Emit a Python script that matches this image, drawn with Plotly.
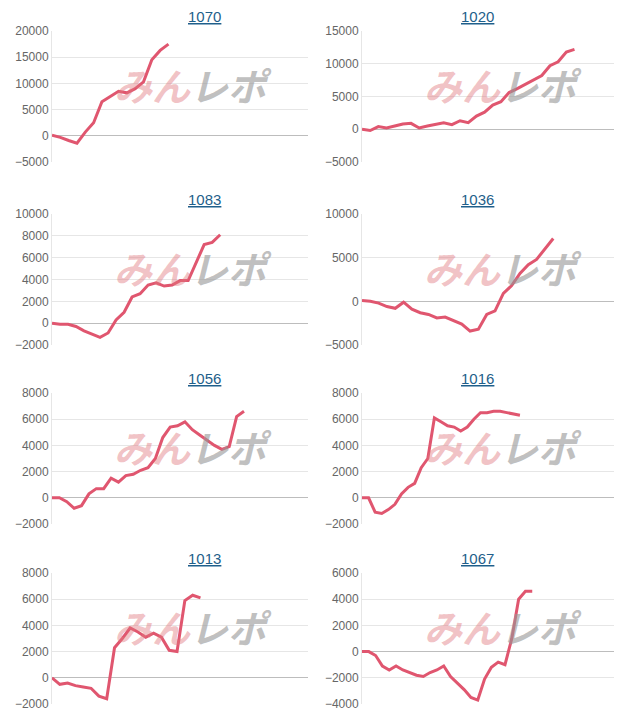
import plotly.graph_objects as go

titles = ["1070", "1020", "1083", "1036", "1056", "1016", "1013", "1067"]
s1070 = [100, -300, -900, -1400, 700, 2500, 6500, 7500, 8500, 8200, 9000, 10300, 14500, 16300, 17500]
s1020 = [0, -200, 400, 200, 500, 800, 900, 200, 500, 700, 1000, 700, 1300, 1000, 2000, 2600, 3700, 4200,
         5600, 6200, 6900, 7600, 8200, 9700, 10300, 11800, 12200]
s1083 = [0, -100, -100, -300, -700, -1000, -1300, -900, 300, 1000, 2400, 2700, 3500, 3700, 3400, 3500,
         3900, 3900, 5500, 7200, 7400, 8100]
s1036 = [100, 0, -200, -600, -800, -100, -900, -1300, -1500, -1900, -1800, -2200, -2600, -3400, -3200,
         -1500, -1100, 900, 1800, 3200, 4200, 4800, 6000, 7200]
s1056 = [0, 0, -300, -800, -600, 300, 700, 700, 1500, 1200, 1700, 1800, 2100, 2300, 3000, 4600, 5400,
         5500, 5800, 5200, 4800, 4400, 4000, 3700, 3900, 6200, 6600]
s1016 = [0, 0, -1100, -1200, -900, -500, 300, 800, 1100, 2300, 3000, 6100, 5800, 5500, 5400, 5100, 5400,
         6000, 6500, 6500, 6600, 6600, 6500, 6400, 6300]
s1013 = [0, -500, -400, -600, -700, -800, -1400, -1600, 2300, 3000, 3800, 3500, 3100, 3400, 3100, 2100,
         2000, 5900, 6300, 6100]
s1067 = [0, 0, -300, -1100, -1400, -1100, -1400, -1600, -1800, -1900, -1600, -1400, -1100, -1900, -2400,
         -2900, -3500, -3700, -2100, -1200, -800, -1000, 1000, 4000, 4600, 4600]
series = [s1070, s1020, s1083, s1036, s1056, s1016, s1013, s1067]
yranges = [(-5000, 20000, 5000), (-5000, 15000, 5000), (-2000, 10000, 2000), (-5000, 10000, 5000),
           (-2000, 8000, 2000), (-2000, 8000, 2000), (-2000, 8000, 2000), (-4000, 6000, 2000)]
end_frac = [0.455, 0.83, 0.657, 0.747, 0.75, 0.617, 0.58, 0.665]

W, H = 614, 712
OFF = 8
cols = [(52, 308), (362, 618)]
rows = [(31, 162), (214, 345), (393, 524), (573, 704)]

fig = go.Figure()
layout = dict(width=W, height=H, margin=dict(l=0, r=0, t=0, b=0, autoexpand=False), paper_bgcolor="white",
              plot_bgcolor="white", showlegend=False, annotations=[])
for i, (t, s) in enumerate(zip(titles, series)):
    r, c = divmod(i, 2)
    k = i + 1
    xa = "x" if k == 1 else f"x{k}"
    ya = "y" if k == 1 else f"y{k}"
    fig.add_trace(go.Scatter(x=list(range(len(s))), y=s, mode="lines",
                             line=dict(color="#e0566f", width=3), xaxis=xa, yaxis=ya))
    x0, x1 = [v - OFF for v in cols[c]]
    t0, t1 = [v - OFF for v in rows[r]]
    lo, hi, dt = yranges[i]
    xmax = (len(s) - 1) / end_frac[i]
    layout["xaxis" if k == 1 else f"xaxis{k}"] = dict(domain=[x0 / W, min(x1 / W, 1)], range=[0, xmax],
        showgrid=False, showticklabels=False, zeroline=False, anchor=ya, fixedrange=True, automargin=False)
    layout["yaxis" if k == 1 else f"yaxis{k}"] = dict(domain=[1 - t1 / H, 1 - t0 / H], range=[lo, hi],
        dtick=dt, tickformat="d", gridcolor="#e6e6e6", zeroline=True, zerolinecolor="#bdbdbd", zerolinewidth=1,
        showline=True, linecolor="#e6e6e6", tickfont=dict(family="Arial", size=12, color="#666"),
        anchor=xa, ticklen=0, ticks="", automargin=False)
    cx = (x0 + x1) / 2
    layout["annotations"].append(dict(text=f"<u>{t}</u>", x=(cx + 6) / W, y=1 - (t0 - 15) / H,
        xref="paper", yref="paper", showarrow=False, yanchor="middle",
        font=dict(family="Arial", size=15, color="#1f5f8b")))
    wy = 1 - (t0 + (t1 - t0) * 0.41) / H
    layout["annotations"].append(dict(
        text="<b><i><span style='color:rgba(225,120,125,0.45)'>みん</span><span style='color:rgba(150,150,150,0.6)'>レポ</span></i></b>",
        x=(x0 + 60) / W, y=wy, xref="paper", yref="paper", showarrow=False, xanchor="left", yanchor="middle",
        font=dict(family="Noto Sans CJK JP", size=38)))
fig.update_layout(**layout)
fig.write_html("out.html")
